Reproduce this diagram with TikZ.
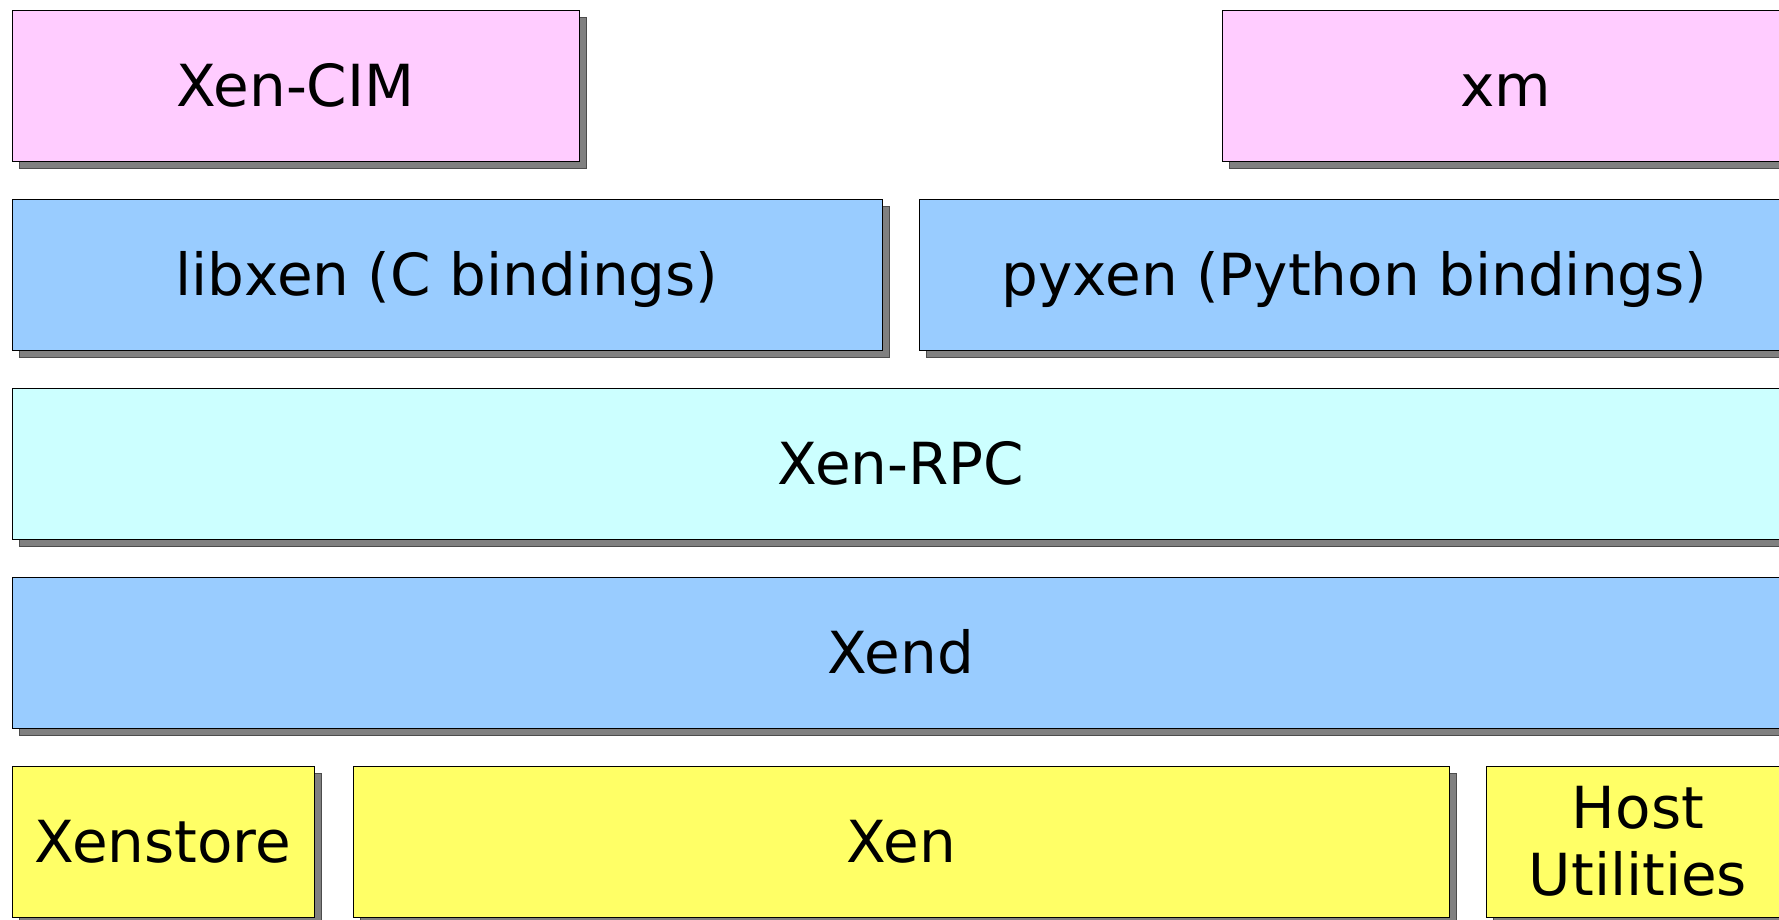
\documentclass[tikz,border=0pt]{standalone}
\usepackage{fontspec}
\setmainfont{DejaVu Sans}
\usetikzlibrary{shadows}
\definecolor{cpink}{HTML}{FFCCFF}
\definecolor{cblue}{HTML}{99CCFF}
\definecolor{ccyan}{HTML}{CCFFFF}
\definecolor{cyellow}{HTML}{FFFF66}
\definecolor{cshadow}{HTML}{808080}
\tikzset{
  layer/.style={draw=black, line width=1pt, minimum height=151pt, inner sep=0pt, outer sep=0pt,
    align=center, font=\fontsize{58}{67}\selectfont,
    drop shadow={shadow xshift=7pt, shadow yshift=-7pt, fill=cshadow, draw=black!70, line width=1pt, opacity=1}},
  oneline/.style={text height=42pt, text depth=0pt},
}
\begin{document}
\begin{tikzpicture}[x=1pt,y=-1pt]
\useasboundingbox (0,0) rectangle (1779,919);
\clip (0,0) rectangle (1779,919);
\node[layer, oneline, fill=cpink, minimum width=567pt] (cim) at (295.5,85.5) {Xen-CIM};
\node[layer, oneline, fill=cpink, minimum width=568pt] (xm) at (1506,85.5) {xm};
\node[layer, oneline, fill=cblue, minimum width=870pt] (libxen) at (447,274.5) {libxen (C bindings)};
\node[layer, oneline, fill=cblue, minimum width=871pt] (pyxen) at (1354.5,274.5) {pyxen (Python bindings)};
\node[layer, oneline, fill=ccyan, minimum width=1778pt] (rpc) at (901,463.5) {Xen-RPC};
\node[layer, oneline, fill=cblue, minimum width=1778pt] (xend) at (901,652.5) {Xend};
\node[layer, oneline, fill=cyellow, minimum width=302pt] (xenstore) at (163,841.5) {Xenstore};
\node[layer, oneline, fill=cyellow, minimum width=1096pt] (xen) at (901,841.5) {Xen};
\node[layer, fill=cyellow, minimum width=304pt] (host) at (1638,841.5) {Host\\Utilities};
\end{tikzpicture}
\end{document}
